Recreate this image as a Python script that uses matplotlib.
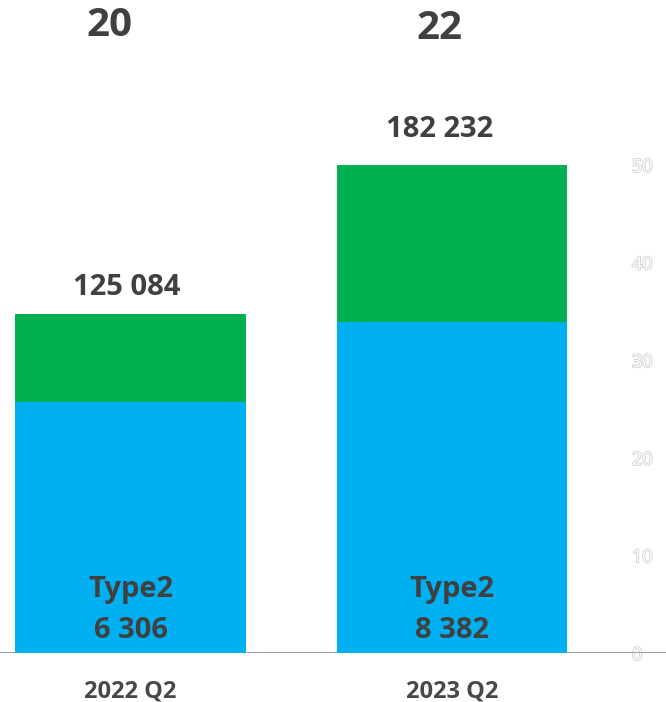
"""
Two stacked quarter bars (Type2 in blue, remainder in green) with totals on top.
"""
import matplotlib
matplotlib.use('Agg')
import matplotlib.pyplot as plt
import matplotlib.patheffects as pe
import numpy as np

plt.rcParams['font.family'] = ['Open Sans', 'DejaVu Sans']

quarters = ['2022 Q2', '2023 Q2']
blue_vals = [25.7, 33.9]       # Type2 part
green_vals = [9.0, 16.1]       # remainder
totals_txt = ['125 084', '182 232']
type2_txt = ['6 306', '8 382']
top_txt = ['20', '22']
yticks = [0, 10, 20, 30, 40, 50]

# label placement (layout only)
total_y = [37.45, 53.6]
total_dx = [-0.011, -0.039]
top_y = [64.3, 64.0]
top_dx = [-0.065, -0.039]

BLUE = '#00B0F0'
GREEN = '#00B050'
TXT = '#404040'

fig = plt.figure(figsize=(6.66, 7.02), dpi=100)
ax = fig.add_axes([0, 0.0698, 1, 0.9302])

x = np.arange(len(quarters))
w = 0.718
ax.bar(x, blue_vals, w, color=BLUE, zorder=3)
ax.bar(x, green_vals, w, bottom=blue_vals, color=GREEN, zorder=3)

ax.axhline(-0.2, color='#A0A0A0', lw=5, zorder=2)

for i, xi in enumerate(x):
    ax.text(xi + total_dx[i], total_y[i], totals_txt[i], ha='center', va='center',
            fontsize=21, fontweight='bold', color=TXT)
    ax.text(xi, 4.4, f'Type2\n{type2_txt[i]}', ha='center', va='center',
            fontsize=21, fontweight='bold', color=TXT, linespacing=1.55, zorder=4)
    ax.text(xi + top_dx[i], top_y[i], top_txt[i], ha='center', va='center',
            fontsize=29, fontweight='bold', color=TXT)

ax.set_xlim(-0.406, 1.666)
ax.set_ylim(0, 66.9)
ax.set_xticks(x)
ax.set_xticklabels(quarters, fontsize=17, fontweight='bold', color='#484848')
ax.tick_params(axis='x', length=0, pad=19)

ax.yaxis.tick_right()
ax.set_yticks(yticks)
ax.tick_params(axis='y', length=0, pad=-24.5, labelsize=13, labelcolor='white')
for lbl in ax.get_yticklabels():
    lbl.set_path_effects([pe.withStroke(linewidth=1.2, foreground='#CFCFCF')])
    lbl.set_zorder(5)

for s in ax.spines.values():
    s.set_visible(False)

fig.savefig('out.png', dpi=100)
